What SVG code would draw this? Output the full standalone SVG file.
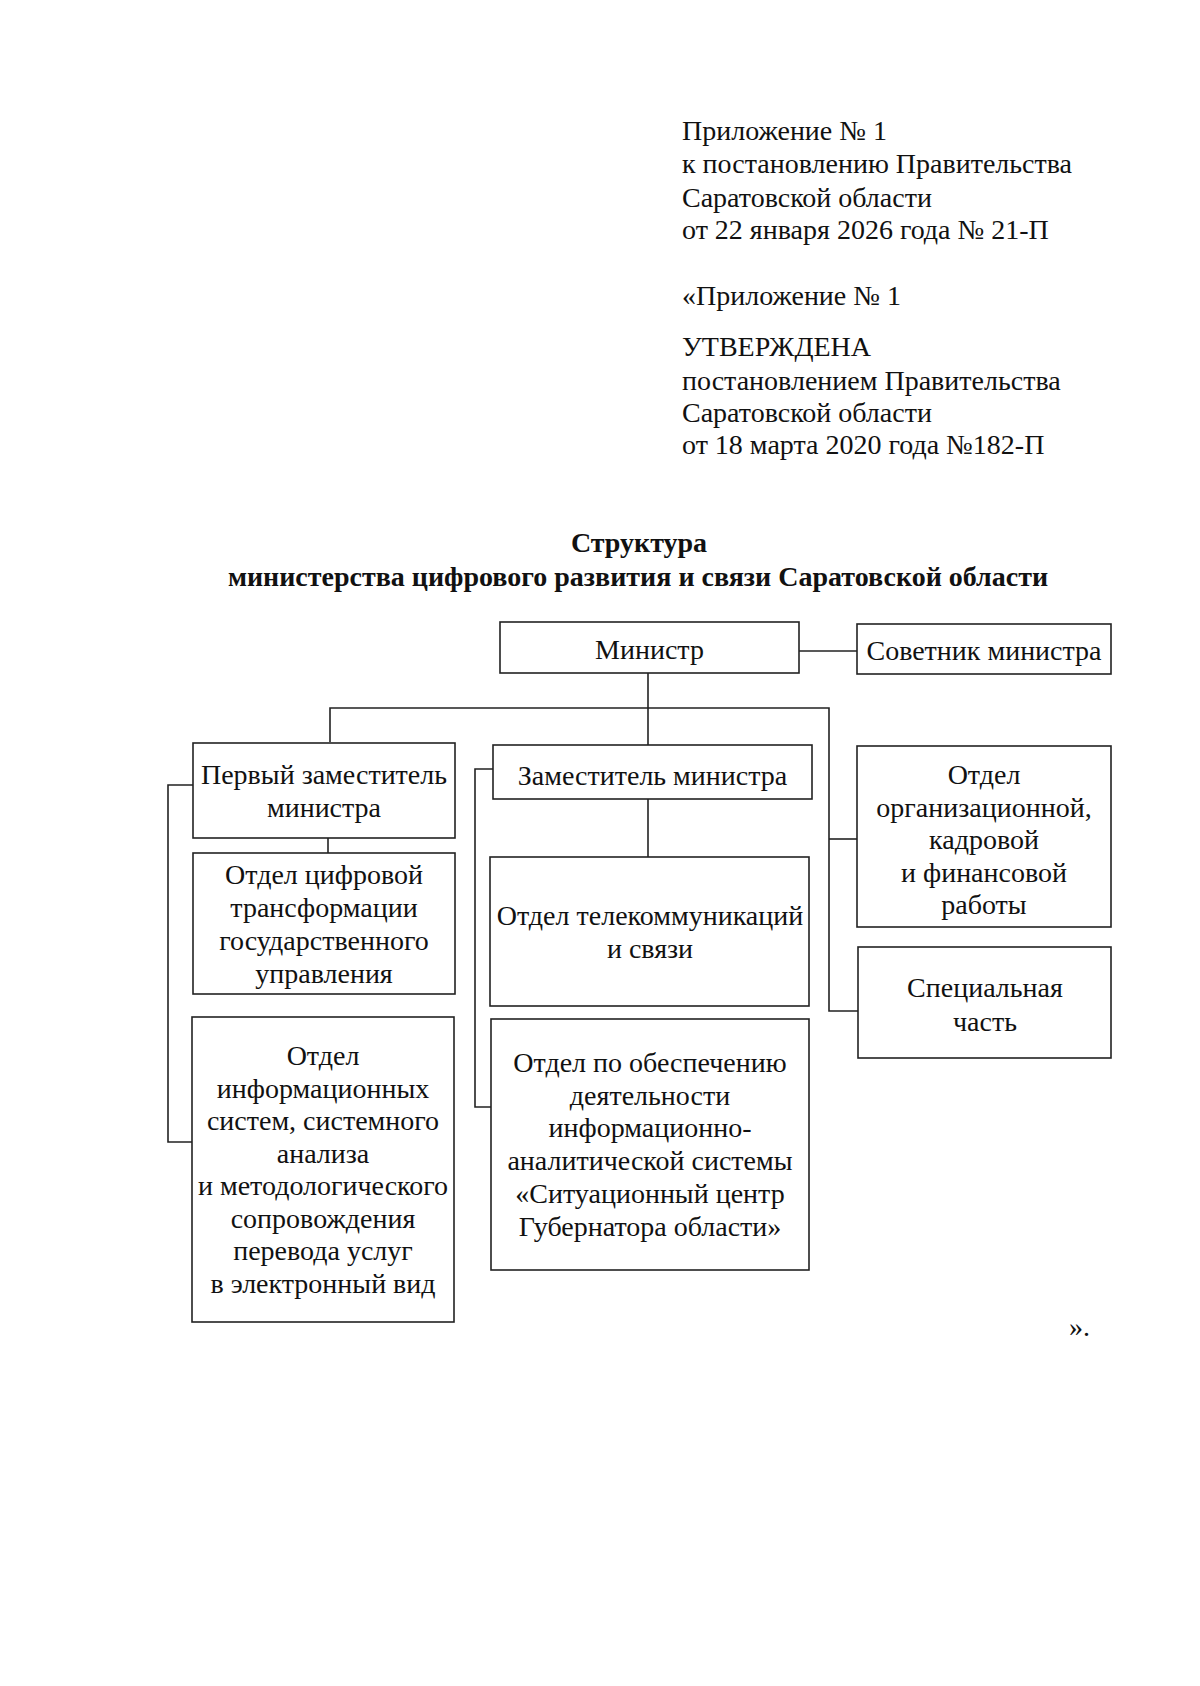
<svg xmlns="http://www.w3.org/2000/svg" width="1200" height="1686" viewBox="0 0 1200 1686">
<style>
.t{font-family:"Liberation Serif","Times New Roman",serif;font-size:28px;fill:#111}
.c{text-anchor:middle}
.b{font-weight:bold}
.box{fill:#fff;stroke:#222;stroke-width:1.6}
.ln{fill:none;stroke:#222;stroke-width:1.6}
</style>
<rect width="1200" height="1686" fill="#fff"/>
<g id="header" class="t">
<text x="682" y="140">Приложение № 1</text>
<text x="682" y="173">к постановлению Правительства</text>
<text x="682" y="207">Саратовской области</text>
<text x="682" y="239">от 22 января 2026 года № 21-П</text>
<text x="682" y="305">«Приложение № 1</text>
<text x="682" y="356">УТВЕРЖДЕНА</text>
<text x="682" y="390">постановлением Правительства</text>
<text x="682" y="422">Саратовской области</text>
<text x="682" y="454">от 18 марта 2020 года №182-П</text>
</g>
<g id="title" class="t c b">
<text x="639" y="552">Структура</text>
<text x="638" y="586">министерства цифрового развития и связи Саратовской области</text>
</g>
<g id="connectors" class="ln">
<path d="M799 651H857"/>
<path d="M648 673V745"/>
<path d="M330 742V708H829V1011H858"/>
<path d="M829 839H857"/>
<path d="M328 838V853"/>
<path d="M193 785H168V1142H192"/>
<path d="M648 799V857"/>
<path d="M493 769H475V1107H491"/>
</g>
<g id="minister"><rect class="box" x="500" y="622" width="299" height="51"/><text class="t c" x="649.5" y="659">Министр</text></g>
<g id="advisor"><rect class="box" x="857" y="624" width="254" height="50"/><text class="t c" x="984" y="660">Советник министра</text></g>
<g id="first-deputy"><rect class="box" x="193" y="743" width="262" height="95"/><text class="t c" x="324" y="784">Первый заместитель</text><text class="t c" x="324" y="817">министра</text></g>
<g id="dept-digital"><rect class="box" x="193" y="853" width="262" height="141"/><text class="t c" x="324" y="884">Отдел цифровой</text><text class="t c" x="324" y="917">трансформации</text><text class="t c" x="324" y="950">государственного</text><text class="t c" x="324" y="983">управления</text></g>
<g id="dept-is"><rect class="box" x="192" y="1017" width="262" height="305"/><text class="t c" x="323" y="1065">Отдел</text><text class="t c" x="323" y="1098">информационных</text><text class="t c" x="323" y="1130">систем, системного</text><text class="t c" x="323" y="1163">анализа</text><text class="t c" x="323" y="1195">и методологического</text><text class="t c" x="323" y="1228">сопровождения</text><text class="t c" x="323" y="1260">перевода услуг</text><text class="t c" x="323" y="1293">в электронный вид</text></g>
<g id="deputy"><rect class="box" x="493" y="745" width="319" height="54"/><text class="t c" x="652.5" y="785">Заместитель министра</text></g>
<g id="dept-telecom"><rect class="box" x="490" y="857" width="319" height="149"/><text class="t c" x="650" y="925">Отдел телекоммуникаций</text><text class="t c" x="650" y="958">и связи</text></g>
<g id="dept-situation"><rect class="box" x="491" y="1019" width="318" height="251"/><text class="t c" x="650" y="1072">Отдел по обеспечению</text><text class="t c" x="650" y="1105">деятельности</text><text class="t c" x="650" y="1137">информационно-</text><text class="t c" x="650" y="1170">аналитической системы</text><text class="t c" x="650" y="1203">«Ситуационный центр</text><text class="t c" x="650" y="1236">Губернатора области»</text></g>
<g id="dept-org"><rect class="box" x="857" y="746" width="254" height="181"/><text class="t c" x="984" y="784">Отдел</text><text class="t c" x="984" y="817">организационной,</text><text class="t c" x="984" y="849">кадровой</text><text class="t c" x="984" y="882">и финансовой</text><text class="t c" x="984" y="914">работы</text></g>
<g id="special"><rect class="box" x="858" y="947" width="253" height="111"/><text class="t c" x="985" y="997">Специальная</text><text class="t c" x="985" y="1031">часть</text></g>
<text class="t" x="1069" y="1336">».</text>
</svg>
